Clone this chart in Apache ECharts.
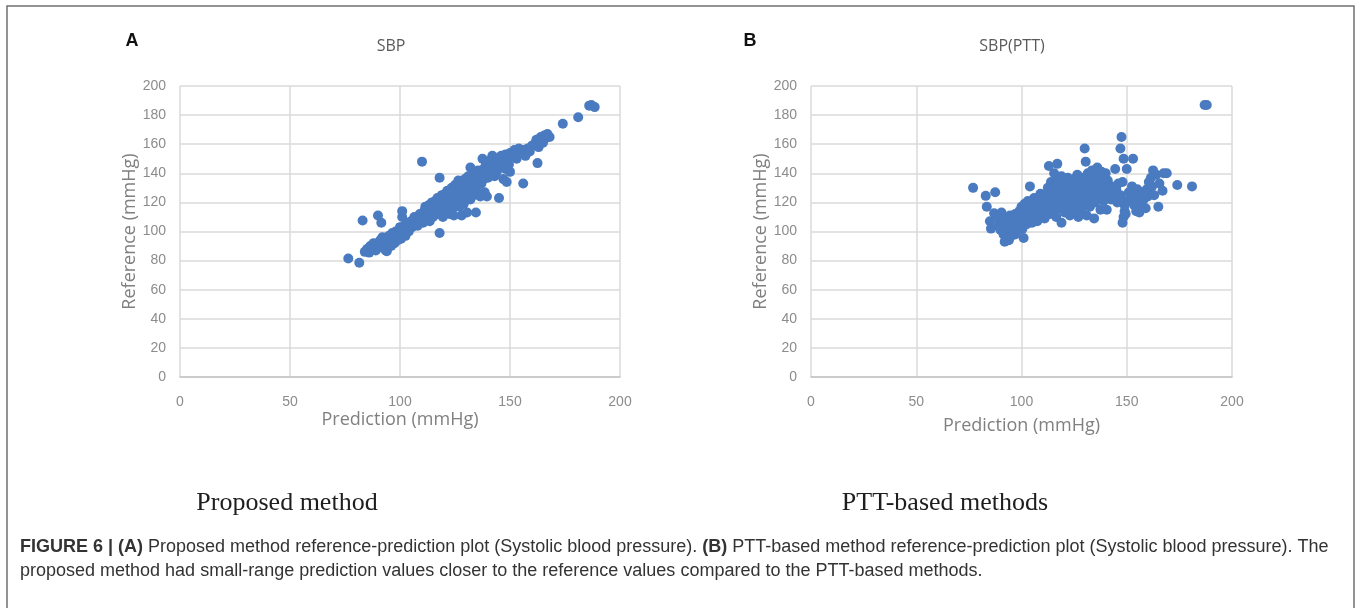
<!DOCTYPE html>
<html>
<head>
<meta charset="utf-8">
<title>SBP reference-prediction plot</title>
<script src="https://cdn.jsdelivr.net/npm/echarts@6/dist/echarts.min.js"></script>
<style>
html, body { margin: 0; padding: 0; background: #fff; }
#main { width: 1360px; height: 608px; }
</style>
</head>
<body>
<div id="main"></div>
<script>
// panel A : proposed method, [prediction, reference]
var sbpPoints = [
	[76.5,81.5],[81.5,78.5],[83,107.5],[84,86],[85,88],[86,85.5],[86.5,90],[87,88],[88,92],[88.5,89],
	[89,87],[90,91],[90,111],[91,94],[91.5,106],[92,89],[92,96],[93,92],[93.5,87],[94,95],
	[94,86.5],[95,97],[95,93],[96,90],[96.5,99],[97,96],[97.5,92],[98,100],[98,97],[99,94],
	[99.5,101],[100,98],[100,103],[100.5,95],[101,110],[101,114],[101.5,100],[102,104],[102.5,97],[103,102],
	[103.5,106],[104,100],[104.5,104],[105,107],[105.5,103],[106,105],[106.5,110],[107,106],[108,104],[108,108],
	[109,112],[109,107],[110,148],[110,111],[110.5,106],[111,114],[111,109],[111.5,117],[112,112],[112,108],
	[112.5,115],[113,118],[113,111],[113.5,107],[114,116],[114,113],[114.5,120],[115,110],[115,118],[115.5,114],
	[116,121],[116,116],[116.5,112],[117,119],[117,123],[117.5,115],[118,137],[118,99],[118,112],[118.5,120],
	[119,117],[119,125],[119.5,110],[120,122],[120,118],[120.5,126],[121,115],[121,121],[121.5,128],[122,118],
	[122,124],[122.5,112],[123,127],[123,120],[123.5,130],[124,116],[124,123],[124.5,111],[125,126],[125,132],
	[125.5,119],[126,128],[126,122],[126.5,135],[127,117],[127,125],[127.5,130],[128,111],[128,121],[128.5,127],
	[129,133],[129,119],[129.5,136],[130,124],[130,129],[130.5,113],[131,131],[131,138],[131.5,126],[132,144],
	[132,122],[132.5,134],[133,129],[133,140],[133.5,125],[134,136],[134,131],[134.5,113],[135,138],[135,128],
	[135.5,142],[136,134],[136,139],[136.5,124],[137,141],[137,133],[137.5,150],[138,136],[138,143],[138.5,127],
	[139,139],[139,146],[139.5,124],[140,142],[140,137],[141,145],[141,149],[141.5,140],[142,143],[142,152],
	[143,146],[143,138],[144,148],[144,141],[145,150],[145,123],[145.5,144],[146,152],[146,147],[147,149],
	[147,136],[148,153],[148,143],[148.5,134],[149,151],[149.5,146],[150,154],[150,141],[151,152],[152,156],
	[153,150],[154,157],[155,154],[156,156],[156,133],[157,152],[158,157],[159,155],[160,159],[161,160],
	[162,163],[162.5,147],[163,158],[164,165],[165,161],[165.5,166],[166,164],[167,167],[168,165],[174,174],
	[181,178.5],[186,186.5],[187,187],[188.5,185.5]
];

// panel B : PTT-based method, [prediction, reference]
var pttPoints = [
	[77,130],[83,124.5],[83.5,117],[85,107],[85.5,102],[87,112.5],[87.5,127],[88,110],[89,104],[89.5,108],
	[90,101],[90.5,113],[91,106],[91.5,98],[92,93],[92,103],[92.5,110],[93,96],[93,107],[93.5,99],
	[94,102],[94,94],[94.5,111],[95,97],[95,105],[95.5,100],[96,108],[96.5,103],[97,112],[97,98],
	[97.5,106],[98,110],[98.5,101],[99,114],[99,107],[99.5,104],[100,117],[100,110],[100.5,102],[101,95.5],
	[101,113],[101.5,119],[102,108],[102,115],[102.5,105],[103,121],[103,111],[103.5,117],[104,131],[104,109],
	[104.5,114],[105,119],[105,106],[105.5,112],[106,116],[106,123],[106.5,109],[107,118],[107,113],[107.5,107],
	[108,121],[108,115],[108.5,110],[109,119],[109,126],[110,112],[110,122],[110.5,117],[111,120],[111,109],
	[112,125],[112,116],[112.5,130],[113,145],[113,121],[113.5,112],[114,134],[114,118],[114.5,127],[115,123],
	[115,115],[115.5,140],[116,131],[116,120],[116.5,110],[117,146.5],[117,126],[117.5,135],[118,122],[118,116],
	[118.5,129],[119,106],[119,138],[119.5,124],[120,119],[120,131],[120.5,113],[121,127],[121,134],[121.5,121],
	[122,117],[122,137],[122.5,125],[123,130],[123,111],[123.5,122],[124,133],[124,118],[124.5,128],[125,136],
	[125,114],[125.5,124],[126,131],[126,120],[126.5,139],[127,126],[127,110],[127.5,134],[128,122],[128,129],
	[128.5,115],[129,137],[129,125],[130,157],[130,131],[130,119],[130.5,148],[131,128],[131,111],[131.5,140],
	[132,134],[132,123],[132.5,117],[133,137],[133,129],[133.5,142],[134,126],[134,132],[134.5,109],[135,139],
	[135,120],[135.5,135],[136,144],[136,128],[136.5,131],[137,138],[137,124],[137.5,115],[138,141],[138,133],
	[138.5,127],[139,136],[139,121],[140,140],[140,130],[140.5,115],[141,126],[141,135],[142,128],[142.5,122],
	[143,131],[144,126],[144.5,143],[145,129],[145.5,120],[146,133],[147,157],[147.5,165],[147,125],[148,134],
	[148.5,150],[148,106],[148.5,110],[149,114],[149,118],[149.5,112],[150,143],[150,121],[151,127],[152,123],
	[152.5,131],[153,150],[153.5,118],[154,126],[154.5,114],[155,129],[155.5,121],[156,113],[156.5,125],[157,119],
	[157.5,127],[158,122],[159,116],[159.5,129],[160,124],[160.5,134],[161,127],[161.5,137],[162,131],[162.5,142],
	[163,125],[164,139],[165,117],[165.5,133],[167,128],[167.5,140],[169,140],[174,132],[181,131],[187,187],
	[188,187]
];

var panelTitles = ['SBP', 'SBP(PTT)'];
var panelLetters = ['A', 'B'];
var methodNames = ['Proposed method', 'PTT-based methods'];
var xName = 'Prediction (mmHg)';
var yName = 'Reference (mmHg)';

var dotColor = '#4a7bc0';
var gridColor = '#dadada';
var labelColor = '#8c8c8c';
var nameColor = '#808080';
var labelFont = '"Liberation Sans Narrow", "Liberation Sans", sans-serif';
var nameFont = '"Open Sans", "Noto Sans", sans-serif';

function makeXAxis(idx, gap) {
	return {
		type: 'value', gridIndex: idx, min: 0, max: 200, interval: 50,
		name: xName, nameLocation: 'middle', nameGap: gap,
		nameTextStyle: { color: nameColor, fontSize: 18, fontFamily: nameFont },
		axisLine: { show: true, lineStyle: { color: '#c4c4c4', width: 1.5 } },
		axisTick: { show: false },
		axisLabel: { margin: 18, color: labelColor, fontSize: 14, fontFamily: labelFont },
		splitLine: { show: true, lineStyle: { color: gridColor, width: 1.5 } }
	};
}

function makeYAxis(idx, gap) {
	return {
		type: 'value', gridIndex: idx, min: 0, max: 200, interval: 20,
		name: yName, nameLocation: 'middle', nameGap: gap,
		nameTextStyle: { color: nameColor, fontSize: 18, fontFamily: nameFont },
		axisLine: { show: false },
		axisTick: { show: false },
		axisLabel: { margin: 14, color: labelColor, fontSize: 14, fontFamily: labelFont },
		splitLine: { show: true, lineStyle: { color: gridColor, width: 1.5 } }
	};
}

function label(x, y, text, font, color) {
	return {
		type: 'text', x: x, y: y,
		style: { text: text, font: font, fill: color, align: 'center', verticalAlign: 'middle' }
	};
}

var caption1 = '{b|FIGURE 6 | (A)} Proposed method reference-prediction plot (Systolic blood pressure). {b|(B)} PTT-based method reference-prediction plot (Systolic blood pressure). The';
var caption2 = 'proposed method had small-range prediction values closer to the reference values compared to the PTT-based methods.';
var captionFont = '"Liberation Sans", Arial, sans-serif';
var captionSize = 18;

var myChart = echarts.init(document.getElementById('main'));
var option = {
	backgroundColor: '#fff',
	animation: false,
	grid: [
		{ left: 180, top: 86, width: 440, height: 291 },
		{ left: 811, top: 86, width: 421, height: 291 }
	],
	xAxis: [makeXAxis(0, 34), makeXAxis(1, 40)],
	yAxis: [makeYAxis(0, 40), makeYAxis(1, 40)],
	series: [
		{ type: 'scatter', xAxisIndex: 0, yAxisIndex: 0, data: sbpPoints, symbolSize: 10,
			itemStyle: { color: dotColor, opacity: 1 } },
		{ type: 'scatter', xAxisIndex: 1, yAxisIndex: 1, data: pttPoints, symbolSize: 10,
			itemStyle: { color: dotColor, opacity: 1 } }
	],
	graphic: [
		// figure frame
		{ type: 'rect', z: -10, shape: { x: 7, y: 6, width: 1347, height: 620 },
			style: { fill: 'none', stroke: '#707070', lineWidth: 1.5 } },
		label(132, 41, panelLetters[0], 'bold 18px "Liberation Sans", Arial, sans-serif', '#111'),
		label(750, 41, panelLetters[1], 'bold 18px "Liberation Sans", Arial, sans-serif', '#111'),
		label(391, 46, panelTitles[0], '16px ' + nameFont, '#5a5a5a'),
		label(1012, 46, panelTitles[1], '16px ' + nameFont, '#5a5a5a'),
		label(287, 503, methodNames[0], '26px "Liberation Serif", "Times New Roman", serif', '#1e1e1e'),
		label(945, 503, methodNames[1], '26px "Liberation Serif", "Times New Roman", serif', '#1e1e1e'),
		{ type: 'text', x: 20, y: 547,
			style: { text: caption1, fill: '#333', fontSize: captionSize, fontFamily: captionFont, verticalAlign: 'middle',
				rich: { b: { fontWeight: 'bold', fill: '#333', fontSize: captionSize, fontFamily: captionFont } } } },
		{ type: 'text', x: 20, y: 571,
			style: { text: caption2, fill: '#333', fontSize: captionSize, fontFamily: captionFont, verticalAlign: 'middle' } }
	]
};
myChart.setOption(option);
</script>
</body>
</html>
